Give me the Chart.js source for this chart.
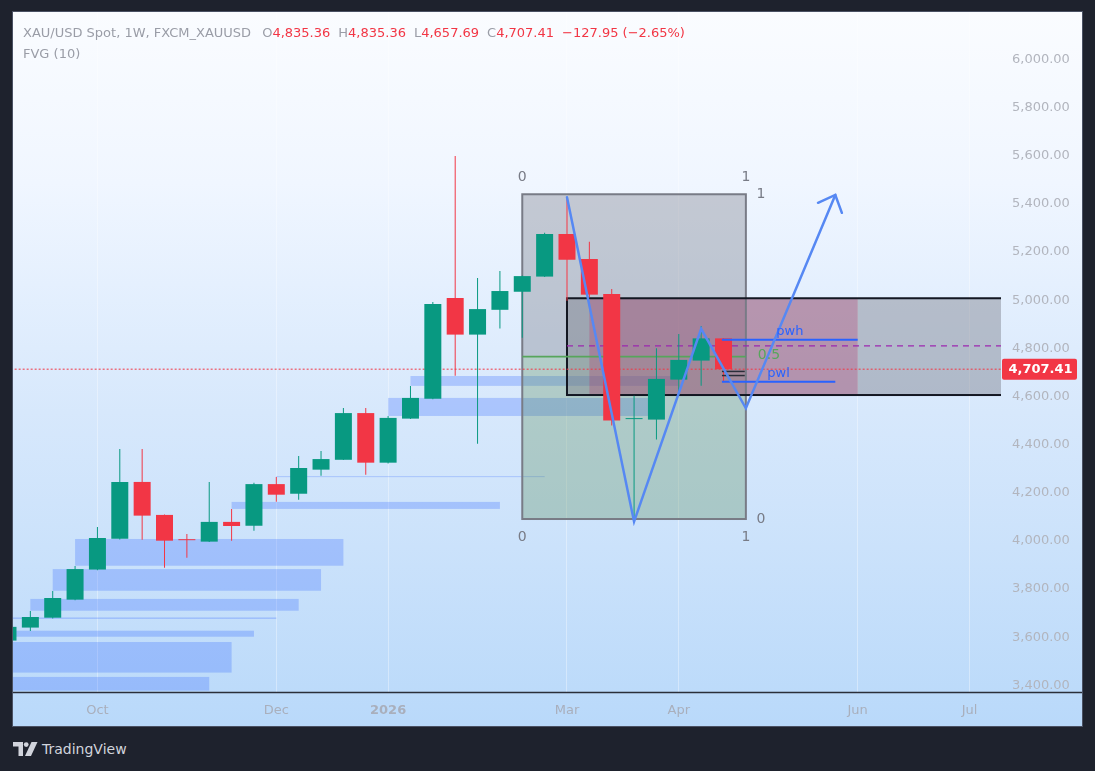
<!DOCTYPE html>
<html>
<head>
<meta charset="utf-8">
<title>XAU/USD Spot 1W</title>
<script src="https://cdn.jsdelivr.net/npm/chart.js@4.4.1/dist/chart.umd.min.js"></script>
<style>
  html,body{margin:0;padding:0;width:1095px;height:771px;overflow:hidden;background:#1e222d;font-family:"DejaVu Sans",sans-serif;}
  #panel{position:absolute;left:13px;top:12px;width:1069px;height:714px;
    background:linear-gradient(to bottom,#fafcff 0%,#f0f6ff 24%,#e5f0fe 38%,#d7e8fc 56%,#cbe2fb 75%,#b9d9fa 100%);
    box-shadow:0 0 0 1px #4a5163;}
  #chart{position:absolute;left:0;top:0;}
  #hdr{position:absolute;left:23px;top:25px;white-space:pre;font-size:13px;line-height:16px;color:#9a9da7;}
  #hdr .r{color:#f23645}
  #hdr .gap{display:inline-block;width:8px}
  #hdr .gap0{display:inline-block;width:11px}
  #fvg{position:absolute;left:23px;top:46px;white-space:pre;font-size:13px;line-height:16px;color:#9a9da7;}
  #logo{position:absolute;left:13px;top:742px;}
  #tv{position:absolute;left:42px;top:740px;color:#d1d4dc;font-size:14px;line-height:18px;}
</style>
</head>
<body>
<div id="panel"><canvas id="chart" width="1069" height="714"></canvas></div>
<div id="hdr"></div>
<div id="fvg">FVG (10)</div>
<svg id="logo" width="25" height="14" viewBox="0 0 25 14">
  <path d="M0 0h10v14H5.5V4.5H0z" fill="#d1d4dc"/>
  <circle cx="13.2" cy="2.6" r="2.4" fill="#d1d4dc"/>
  <path d="M18.5 0h6l-6.5 14h-6z" fill="#d1d4dc"/>
</svg>
<div id="tv">TradingView</div>
<script>
// ---------- data ----------
const weeks = ['2025-09-08','2025-09-15','2025-09-22','2025-09-29','2025-10-06','2025-10-13','2025-10-20','2025-10-27',
  '2025-11-03','2025-11-10','2025-11-17','2025-11-24','2025-12-01','2025-12-08','2025-12-15','2025-12-22','2025-12-29',
  '2026-01-05','2026-01-12','2026-01-19','2026-01-26','2026-02-02','2026-02-09','2026-02-16','2026-02-23',
  '2026-03-02','2026-03-09','2026-03-16','2026-03-23','2026-03-30','2026-04-06','2026-04-13','2026-04-20'];
const open  = [3580,3634,3675,3750,3875,4003,4239,4102,4001,3991,4073,4057,4230,4190,4290,4331,4525,
  4319,4502,4585,5003,4851,4954,5029,5092,5269,5165,5020,4500,4498,4664,4743,4835.36];
const high  = [3648,3703,3786,3890,4052,4376,4376,4104,4023,4239,4127,4236,4260,4347,4368,4546,4546,
  4513,4638,4986,5593,5086,5115,5097,5274,5417,5237,5040,4597,4794,4854,4887,4835.36];
const low   = [3572,3620,3672,3748,3872,4000,3999,3883,3924,3990,3995,4036,4157,4165,4265,4330,4269,
  4316,4500,4582,4680,4398,4876,4838,5090,4992,5006,4473,4074,4415,4599,4639,4657.69];
const close = [3637,3678,3757,3877,4006,4239,4099,3995,3997,4073,4056,4230,4186,4297,4334,4525,4319,
  4505,4588,4978,4851,4957,5032,5094,5269,5162,5017,4494,4503,4667,4746,4835.36,4707.41];

const tickIdx    = [4, 12, 17, 25, 30, 38, 43];
const tickLabels = ['Oct','Dec','2026','Mar','Apr','Jun','Jul'];
const yTicks = [3400,3600,3800,4000,4200,4400,4600,4800,5000,5200,5400,5600,5800,6000];
const viewX = [0.224, 44.41];
const viewY = [3366.4, 6191.1];

// FVG (10) zones: bar index start/end, top/bottom price
const fvgStart = [3, 2, 1, 0, -1, -2, -3, 10, 12, 18, 17];
const fvgEnd   = [15, 14, 13, 12, 11, 10, 9, 22, 24, 30, 29];
const fvgTop   = [4002, 3877, 3753, 3676, 3621, 3574, 3429, 4156, 4263, 4679, 4588];
const fvgBot   = [3891, 3787, 3704, 3670, 3596, 3447, 3372, 4127, 4259, 4638, 4513];

// Gann box: bars 23..33, prices level0 / level1
const gannX = [23, 33];
const gannP = [4085, 5434];
const gannLevels = [0, 0.5, 1];
// range zone
const zoneX = [25, 60];
const zoneP = [5002, 4600];
const pinkX = [26, 38];
const midLine = 4804;
// previous week high / low
const pwhX = [31.93, 38], pwh = 4830;
const pwlX = [31.93, 37], pwl = 4655;
const dblX = [31.93, 32.95], dblP = [4698, 4681];
// projected path
const pathX = [25, 28, 31, 33, 37];
const pathP = [5422, 4074, 4875, 4545, 5431];

// ---------- header ----------
const last = close.length - 1;
const fmt = v => v.toLocaleString('en-US',{minimumFractionDigits:2,maximumFractionDigits:2});
const chg = close[last] - close[last-1];
const pct = chg / close[last-1] * 100;
const sgn = v => (v < 0 ? '\u2212' : '+');
const hdr = document.getElementById('hdr');
function add(cls, txt){ const s=document.createElement('span'); if(cls) s.className=cls; s.textContent=txt; hdr.appendChild(s); }
add('', 'XAU/USD Spot, 1W, FXCM_XAUUSD');
add('gap0','');
[['O',open[last]],['H',high[last]],['L',low[last]],['C',close[last]]].forEach(([k,v],i)=>{
  if(i) add('gap','');
  add('',k); add('r',fmt(v));
});
add('gap','');
add('r', sgn(chg)+fmt(Math.abs(chg))+' ('+sgn(pct)+Math.abs(pct).toFixed(2)+'%)');

// ---------- chart ----------
const up = '#089981', dn = '#f23645';
const colors = close.map((c,i)=> c >= open[i] ? up : dn);

const drawings = {
  id:'drawings',
  beforeDatasetsDraw(chart){
    const {ctx, chartArea:a, scales:{x,y}} = chart;
    const X=v=>x.getPixelForValue(v), Y=v=>y.getPixelForValue(v);
    ctx.save();
    ctx.beginPath(); ctx.rect(a.left,a.top,a.right-a.left,a.bottom-a.top); ctx.clip();
    const rect=(x1,x2,p1,p2,fill)=>{ ctx.fillStyle=fill; ctx.fillRect(X(x1),Y(p1),X(x2)-X(x1),Y(p2)-Y(p1)); };
    for(let i=0;i<fvgStart.length;i++) rect(fvgStart[i],fvgEnd[i],fvgTop[i],fvgBot[i],'rgba(41,98,255,0.26)');
    const gMid = gannP[0] + (gannP[1]-gannP[0])*gannLevels[1];
    rect(gannX[0],gannX[1],gannP[1],gMid,'rgba(120,123,134,0.36)');
    rect(gannX[0],gannX[1],gMid,gannP[0],'rgba(83,136,79,0.30)');
    rect(zoneX[0],zoneX[1],zoneP[0],zoneP[1],'rgba(120,123,134,0.43)');
    rect(pinkX[0],pinkX[1],zoneP[0],zoneP[1],'rgba(185,30,90,0.25)');
    ctx.lineWidth=2; ctx.strokeStyle='#787b86';
    ctx.strokeRect(X(gannX[0]),Y(gannP[1]),X(gannX[1])-X(gannX[0]),Y(gannP[0])-Y(gannP[1]));
    ctx.strokeStyle='#131722';
    ctx.strokeRect(X(zoneX[0]),Y(zoneP[0]),X(zoneX[1])-X(zoneX[0]),Y(zoneP[1])-Y(zoneP[0]));
    const hline=(x1,x2,p,col,w,dash)=>{ ctx.beginPath(); ctx.setLineDash(dash||[]); ctx.strokeStyle=col; ctx.lineWidth=w;
      ctx.moveTo(X(x1),Y(p)); ctx.lineTo(X(x2),Y(p)); ctx.stroke(); ctx.setLineDash([]); };
    hline(gannX[0],gannX[1],gMid,'#57a55c',1.8);
    hline(zoneX[0],zoneX[1],midLine,'#9c27b0',1.3,[6,5]);
    hline(viewX[0]-1,viewX[1]+1,close[last],'#f23645',1,[2,2]);
    ctx.restore();
  },
  afterDatasetsDraw(chart){
    const {ctx, chartArea:a, scales:{x,y}} = chart;
    const X=v=>x.getPixelForValue(v), Y=v=>y.getPixelForValue(v);
    ctx.save();
    const hline=(x1,x2,p,col,w)=>{ ctx.beginPath(); ctx.strokeStyle=col; ctx.lineWidth=w; ctx.moveTo(X(x1),Y(p)); ctx.lineTo(X(x2),Y(p)); ctx.stroke(); };
    hline(pwhX[0],pwhX[1],pwh,'#2962ff',2);
    hline(pwlX[0],pwlX[1],pwl,'#2962ff',2);
    hline(dblX[0],dblX[1],dblP[0],'#2a2e39',1.5);
    hline(dblX[0],dblX[1],dblP[1],'#2a2e39',1.5);
    // path
    ctx.beginPath(); ctx.strokeStyle='#5688f3'; ctx.lineWidth=2.5; ctx.lineJoin='miter'; ctx.lineCap='round';
    pathX.forEach((v,i)=>{ const px=X(v), py=Y(pathP[i]); i?ctx.lineTo(px,py):ctx.moveTo(px,py); });
    ctx.stroke();
    const n=pathX.length-1;
    const tx=X(pathX[n]), ty=Y(pathP[n]), fx=X(pathX[n-1]), fy=Y(pathP[n-1]);
    const ang=Math.atan2(fy-ty,fx-tx), L=19, spread=0.75;
    ctx.beginPath();
    ctx.moveTo(tx+L*Math.cos(ang+spread), ty+L*Math.sin(ang+spread)); ctx.lineTo(tx,ty);
    ctx.lineTo(tx+L*Math.cos(ang-spread), ty+L*Math.sin(ang-spread)); ctx.stroke();
    // labels
    ctx.font='14px "DejaVu Sans"'; ctx.fillStyle='#787b86'; ctx.textAlign='center'; ctx.textBaseline='middle';
    const gx0=X(gannX[0]), gx1=X(gannX[1]), gyT=Y(gannP[1]), gyB=Y(gannP[0]);
    ctx.fillText(String(gannLevels[0]), gx0, gyT-17); ctx.fillText(String(gannLevels[2]), gx1, gyT-17);
    ctx.fillText(String(gannLevels[0]), gx0, gyB+18); ctx.fillText(String(gannLevels[2]), gx1, gyB+18);
    ctx.fillText(String(gannLevels[2]), gx1+15, gyT); ctx.fillText(String(gannLevels[0]), gx1+15, gyB);
    const gMid = gannP[0] + (gannP[1]-gannP[0])*gannLevels[1];
    ctx.fillStyle='#57a55c'; ctx.textAlign='left';
    ctx.fillText(String(gannLevels[1]), gx1+12, Y(gMid)-1);
    ctx.font='13px "DejaVu Sans"'; ctx.fillStyle='#2962ff'; ctx.textAlign='center'; ctx.textBaseline='alphabetic';
    ctx.fillText('pwh', X(34.97), Y(pwh)-5);
    ctx.fillText('pwl', X(34.46), Y(pwl)-5);
    // bottom axis line
    ctx.beginPath(); ctx.strokeStyle='#2a2e39'; ctx.lineWidth=1.5;
    ctx.moveTo(0,a.bottom+0.5); ctx.lineTo(chart.width,a.bottom+0.5); ctx.stroke();
    // last price label
    const py=Y(close[last]);
    ctx.fillStyle='#f23645';
    ctx.beginPath(); if(ctx.roundRect){ctx.roundRect(a.right+1,py-10.5,75,21,2);} else {ctx.rect(a.right+1,py-10.5,75,21);} ctx.fill();
    ctx.fillStyle='#ffffff'; ctx.font='bold 13px "DejaVu Sans"'; ctx.textAlign='center'; ctx.textBaseline='middle';
    ctx.fillText(fmt(close[last]), a.right+39.5, py+0.5);
    ctx.restore();
  }
};

new Chart(document.getElementById('chart'), {
  type:'bar',
  data:{ datasets:[
    { label:'body', data: weeks.map((w,i)=>({x:i, y:[open[i], close[i]]})), backgroundColor: colors,
      barThickness:17, grouped:false, minBarLength:1, borderWidth:0, inflateAmount:0, order:0 },
    { label:'wick', data: weeks.map((w,i)=>({x:i, y:[low[i], high[i]]})), backgroundColor: colors,
      barThickness:1, grouped:false, borderWidth:0, inflateAmount:0, order:1 }
  ]},
  options:{
    responsive:false, animation:false, events:[], devicePixelRatio:1,
    layout:{padding:0},
    plugins:{legend:{display:false}, tooltip:{enabled:false}},
    scales:{
      x:{ type:'linear', position:'bottom', min:viewX[0], max:viewX[1], offset:false,
        afterBuildTicks: s=>{ s.ticks = tickIdx.map(v=>({value:v})); },
        afterFit: s=>{ s.height = 34; s.paddingLeft = 0; s.paddingRight = 0; },
        ticks:{ autoSkip:false, maxRotation:0, minRotation:0, padding:11, color:'#a9afbc',
          font: c=>({family:'DejaVu Sans', size:13, weight: (c.tick && c.tick.value===tickIdx[2]) ? 'bold' : 'normal'}),
          callback:(v,i)=>tickLabels[i] },
        grid:{ color:'rgba(255,255,255,0.35)', drawTicks:false, offset:false },
        border:{ display:false } },
      y:{ type:'linear', position:'right', min:viewY[0], max:viewY[1], beginAtZero:false,
        afterBuildTicks: s=>{ s.ticks = yTicks.map(v=>({value:v})); },
        afterFit: s=>{ s.width = 81; s.paddingTop = 0; s.paddingBottom = 0; },
        ticks:{ padding:11, labelOffset:1.5, color:'#b2b5be', font:{family:'DejaVu Sans', size:13},
          callback: v=>fmt(v) },
        grid:{ display:false, drawTicks:false }, border:{ display:false } }
    }
  },
  plugins:[drawings]
});
</script>
</body>
</html>
